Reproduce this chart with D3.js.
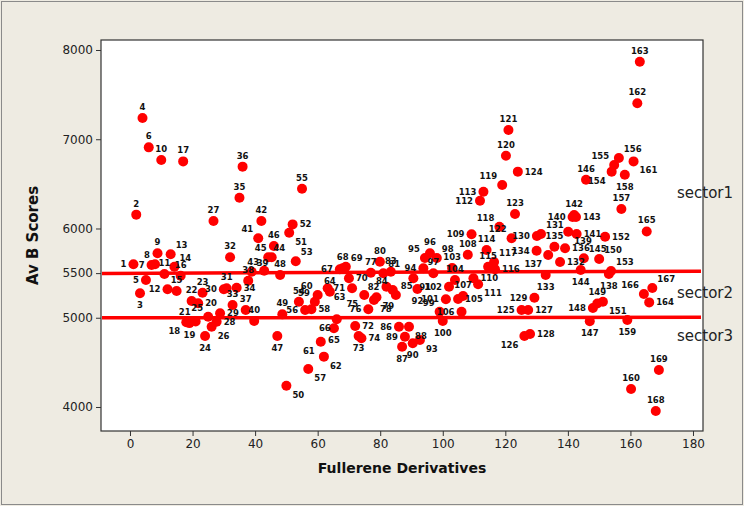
<!DOCTYPE html>
<html><head><meta charset="utf-8">
<script src="https://cdn.jsdelivr.net/npm/d3@7"></script>
<style>body{margin:0;background:#fff}svg{display:block}</style>
</head><body>
<svg id="c" width="744" height="506"></svg>
<script>
const ids = d3.range(1,170);
const xs = [1.1,2,3.2,4,5.1,6,6.9,8,8.8,10,11,12,13,14.2,14.9,16.2,17,18,19,21.8,21,19.7,23.2,24,25,26.1,26.7,27.7,28.8,30,30.9,32,32.8,34.1,35,36,37,37.8,38.9,39.7,41,42,42.9,44.2,45.3,46,47.1,48,48.7,50,50.9,52,53,54,55,56,57,58,59.1,60,61,62,63.2,63.9,65.2,66.1,67.1,68,69,70,71,72,73.1,74,74.9,76.2,77,78,78.8,79.9,81,82,83.4,84,85,86,87,89.2,87.9,90.4,90.6,91.9,92.7,93.8,94.3,95.9,97,98.1,99,100,101,102,103,103.9,104.9,106,106.5,108,109.2,109.8,111.3,111.9,113,114,114.5,116.7,116.4,118.1,119,120.2,121,122,123.1,124,125.2,126.1,127.3,127.9,129.3,130.1,131.4,137.5,132.9,130,135.7,139.1,133.7,153.1,140.1,141.5,142.8,142,142.6,144.1,145.1,145.8,147,148,149.4,150,151.2,151.9,153.8,154,154.8,156.3,157.1,158.2,159,160.2,161,162.2,163,166,165.2,164.3,167,168.1,169.1];
const ys = [5600,6155,5274,7239,5423,6909,5591,5600,5722,6768,5490,5319,5711,5572,5300,5471,6752,4950,4940,5162,4958,5188,5281,4796,5012,4900,6084,4956,5050,5320,5330,5677,5143,5337,6345,6693,5087,5415,5516,4964,5890,6084,5527,5677,5677,5804,4796,5479,5038,4238,5953,6046,5632,5180,6446,5087,4425,5095,5180,5255,4732,4564,5330,5292,4882,4983,5543,5554,5572,5442,5330,4908,4796,4770,5255,5095,5505,5199,5229,5628,5498,5348,5516,5311,5255,4899,4675,4900,4788,4714,5442,5322,4751,5554,5670,5722,5498,5670,5068,4964,5207,5348,5558,5423,5210,5068,5244,5706,5935,5442,5375,6311,6412,5759,5572,5543,5625,6020,6487,6816,7104,5890,6162,6637,5087,4796,5087,4818,5225,5916,5938,5625,5479,5751,5796,5778,5703,5490,5964,6129,5938,6151,6129,5535,5666,6547,4960,5109,5160,5658,5179,5908,5524,6637,6712,6790,6219,6603,4974,4202,6752,7403,7869,5172,5967,5266,5333,3955,4415];
const labelDir = ["w","n","s","n","w","n","w","nw","n","n","n","w","ne","ne","n","n","n","sw","s","e","nw","n","n","s","nw","se","n","e","e","w","n","n","n","e","n","n","n","n","ne","n","nw","n","nw","ne","nw","n","s","n","n","se","se","e","ne","n","n","w","se","e","nw","nw","sw","se","se","n","s","sw","w","n","ne","e","w","e","s","e","sw","w","n","se","se","n","ne","w","n","nw","ne","w","s","se","w","s","se","s","se","w","nw","n","n","ne","nw","s","w","w","n","n","e","w","n","n","w","e","se","w","w","n","n","e","ne","nw","nw","n","n","nw","n","e","w","sw","e","e","w","w","ne","e","s","w","n","e","sw","s","se","w","e","n","e","s","ne","n","s","w","n","ne","se","e","ne","sw","nw","ne","n","s","s","n","se","n","n","e","n","nw","ne","n","n"];
const xTicks = [0,20,40,60,80,100,120,140,160,180];
const yTicks = [4000,5000,5500,6000,7000,8000];
const sectorLines = [{y0:5497, y1:5522},{y0:5000, y1:5005}];
const sectorNames = ["sector1","sector2","sector3"];
const sectorNameY = [6342, 5221, 4743];

const svg = d3.select("#c");
const L=101,R=703,T=40,B=431;
svg.append("rect").attr("x",0).attr("y",0).attr("width",744).attr("height",506).attr("fill","#EEEBE2");
svg.append("rect").attr("x",1.5).attr("y",1.5).attr("width",741).attr("height",503).attr("fill","none").attr("stroke","#8a8a8a").attr("stroke-width",1);
const x = d3.scaleLinear().domain([-9.27,183.2]).range([L,R]);
const y = d3.scaleLinear().domain([3731,8112]).range([B,T]);
svg.append("rect").attr("x",L).attr("y",T).attr("width",R-L).attr("height",B-T).attr("fill","#fff");

const xa = svg.append("g").attr("transform",`translate(0,${B})`).call(d3.axisBottom(x).tickValues(xTicks).tickSize(5).tickSizeOuter(0));
const ya = svg.append("g").attr("transform",`translate(${L},0)`).call(d3.axisLeft(y).tickValues(yTicks).tickFormat(d3.format("d")).tickSize(5).tickSizeOuter(0));
[xa,ya].forEach(a=>{a.select(".domain").remove();a.selectAll("line").attr("stroke","#333");a.selectAll("text").attr("font-family","DejaVu Sans, sans-serif").attr("font-size",12).attr("fill","#222");});

const g = svg.append("g");
sectorLines.forEach(s=>{
  g.append("line").attr("x1",L+1).attr("x2",R-2).attr("y1",y(s.y0)).attr("y2",y(s.y1)).attr("stroke","#f00").attr("stroke-width",3.5);
});
const pts = ids.map((id,i)=>({id,x:xs[i],y:ys[i],d:labelDir[i]}));
g.selectAll("circle").data(pts).join("circle").attr("cx",d=>x(d.x)).attr("cy",d=>y(d.y)).attr("r",5).attr("fill","#f00");
const off = {n:[0,-8,"middle"],s:[0,15,"middle"],e:[7,3,"start"],w:[-7,3,"end"],ne:[5,-6,"start"],nw:[-5,-6,"end"],se:[6,12,"start"],sw:[-6,12,"end"]};
g.selectAll("text.lab").data(pts).join("text").attr("class","lab")
 .attr("x",d=>x(d.x)+off[d.d][0]).attr("y",d=>y(d.y)+off[d.d][1]).attr("text-anchor",d=>off[d.d][2])
 .attr("font-family","DejaVu Sans, sans-serif").attr("font-weight","bold").attr("font-size",8.5).attr("fill","#111").text(d=>d.id);

svg.append("rect").attr("x",L).attr("y",T).attr("width",R-L).attr("height",B-T).attr("fill","none").attr("stroke","#333").attr("stroke-width",1.2);
sectorNames.forEach((n,i)=>svg.append("text").attr("x",677).attr("y",y(sectorNameY[i])).attr("font-family","DejaVu Sans, sans-serif").attr("font-size",15).attr("fill","#222").text(n));
svg.append("text").attr("x",(L+R)/2).attr("y",473).attr("text-anchor","middle").attr("font-family","DejaVu Sans, sans-serif").attr("font-weight","bold").attr("font-size",14).attr("fill","#111").text("Fullerene Derivatives");
svg.append("text").attr("transform",`translate(38,${(T+B)/2}) rotate(-90)`).attr("text-anchor","middle").attr("font-family","DejaVu Sans, sans-serif").attr("font-weight","bold").attr("font-size",15).attr("fill","#111").text("Av B Scores");
</script></body></html>
